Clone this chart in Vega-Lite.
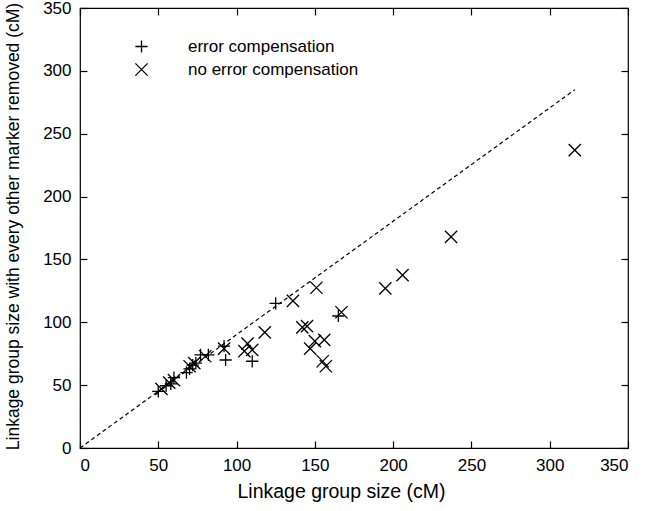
{
  "$schema": "https://vega.github.io/schema/vega-lite/v6.json",
  "width": 548,
  "height": 440,
  "padding": {"left": 80, "top": 8, "right": 17, "bottom": 63},
  "autosize": {"type": "none"},
  "config": {
    "font": "Liberation Sans",
    "view": {"stroke": "black", "strokeWidth": 1.2},
    "axis": {
      "domain": false,
      "grid": false,
      "ticks": true,
      "tickColor": "black",
      "tickSize": -7,
      "tickWidth": 1.2,
      "labelColor": "black",
      "labelFontSize": 17,
      "titleColor": "black",
      "titleFontSize": 18,
      "titleFontWeight": "normal",
      "labelPadding": 16
    }
  },
  "datasets": {
    "pts": [
      {"size": 50, "reduced": 45, "method": "error compensation"},
      {"size": 55, "reduced": 49.5, "method": "error compensation"},
      {"size": 58, "reduced": 51, "method": "error compensation"},
      {"size": 60, "reduced": 56, "method": "error compensation"},
      {"size": 68, "reduced": 60, "method": "error compensation"},
      {"size": 70, "reduced": 63, "method": "error compensation"},
      {"size": 72, "reduced": 66, "method": "error compensation"},
      {"size": 74, "reduced": 67.5, "method": "error compensation"},
      {"size": 77, "reduced": 74, "method": "error compensation"},
      {"size": 82, "reduced": 74, "method": "error compensation"},
      {"size": 92, "reduced": 81, "method": "error compensation"},
      {"size": 93, "reduced": 70, "method": "error compensation"},
      {"size": 110, "reduced": 69, "method": "error compensation"},
      {"size": 125, "reduced": 115, "method": "error compensation"},
      {"size": 165, "reduced": 105, "method": "error compensation"},
      {"size": 52, "reduced": 47, "method": "no error compensation"},
      {"size": 57, "reduced": 52, "method": "no error compensation"},
      {"size": 60, "reduced": 54, "method": "no error compensation"},
      {"size": 70, "reduced": 65, "method": "no error compensation"},
      {"size": 73, "reduced": 67.5, "method": "no error compensation"},
      {"size": 80, "reduced": 73, "method": "no error compensation"},
      {"size": 92, "reduced": 79, "method": "no error compensation"},
      {"size": 105, "reduced": 77, "method": "no error compensation"},
      {"size": 107, "reduced": 83, "method": "no error compensation"},
      {"size": 110, "reduced": 78, "method": "no error compensation"},
      {"size": 118, "reduced": 92, "method": "no error compensation"},
      {"size": 136, "reduced": 117, "method": "no error compensation"},
      {"size": 142, "reduced": 96, "method": "no error compensation"},
      {"size": 145, "reduced": 97, "method": "no error compensation"},
      {"size": 147, "reduced": 79, "method": "no error compensation"},
      {"size": 150, "reduced": 85, "method": "no error compensation"},
      {"size": 151, "reduced": 127.5, "method": "no error compensation"},
      {"size": 155, "reduced": 69, "method": "no error compensation"},
      {"size": 156, "reduced": 86, "method": "no error compensation"},
      {"size": 157, "reduced": 65, "method": "no error compensation"},
      {"size": 167, "reduced": 108, "method": "no error compensation"},
      {"size": 195, "reduced": 127, "method": "no error compensation"},
      {"size": 206, "reduced": 137.5, "method": "no error compensation"},
      {"size": 237, "reduced": 168, "method": "no error compensation"},
      {"size": 316, "reduced": 237, "method": "no error compensation"}
    ],
    "diag": [
      {"size": 0, "reduced": 0},
      {"size": 316, "reduced": 285}
    ]
  },
  "layer": [
    {
      "data": {"name": "diag"},
      "mark": {"type": "line", "color": "black", "strokeDash": [4, 3], "strokeWidth": 1.2},
      "encoding": {
        "x": {"field": "size", "type": "quantitative", "scale": {"domain": [0, 350], "nice": false}, "axis": {"orient": "top", "labels": false, "title": null, "values": [0, 50, 100, 150, 200, 250, 300, 350]}},
        "y": {"field": "reduced", "type": "quantitative", "scale": {"domain": [0, 350], "nice": false}, "axis": {"orient": "right", "labels": false, "title": null, "values": [0, 50, 100, 150, 200, 250, 300, 350]}}
      }
    },
    {
      "data": {"name": "pts"},
      "mark": {"type": "point", "filled": false, "strokeWidth": 1.3, "size": 150, "opacity": 1},
      "encoding": {
        "x": {"field": "size", "type": "quantitative", "scale": {"domain": [0, 350], "nice": false}, "axis": {"orient": "bottom", "title": "Linkage group size (cM)", "titleFontSize": 19.5, "titleX": 261, "titleAlign": "center", "values": [0, 50, 100, 150, 200, 250, 300, 350], "titlePadding": 9}},
        "y": {"field": "reduced", "type": "quantitative", "scale": {"domain": [0, 350], "nice": false}, "axis": {"orient": "left", "title": "Linkage group size with every other marker removed (cM)", "titleFontSize": 17.5, "values": [0, 50, 100, 150, 200, 250, 300, 350], "titlePadding": 20, "titleY": 218}},
        "shape": {
          "field": "method", "type": "nominal",
          "scale": {"domain": ["error compensation", "no error compensation"], "range": ["M-1,0L1,0M0,-1L0,1", "M-1,-1L1,1M-1,1L1,-1"]},
          "legend": {"orient": "none", "legendX": 53, "legendY": 30, "title": null, "labelFontSize": 17, "labelLimit": 400, "labelColor": "black", "symbolStrokeColor": "black", "symbolStrokeWidth": 1.3, "symbolSize": 150, "symbolFillColor": "transparent", "labelOffset": 38, "rowPadding": 4}
        },
        "color": {"value": "black"}
      }
    }
  ],
  "resolve": {"axis": {"x": "independent", "y": "independent"}}
}
